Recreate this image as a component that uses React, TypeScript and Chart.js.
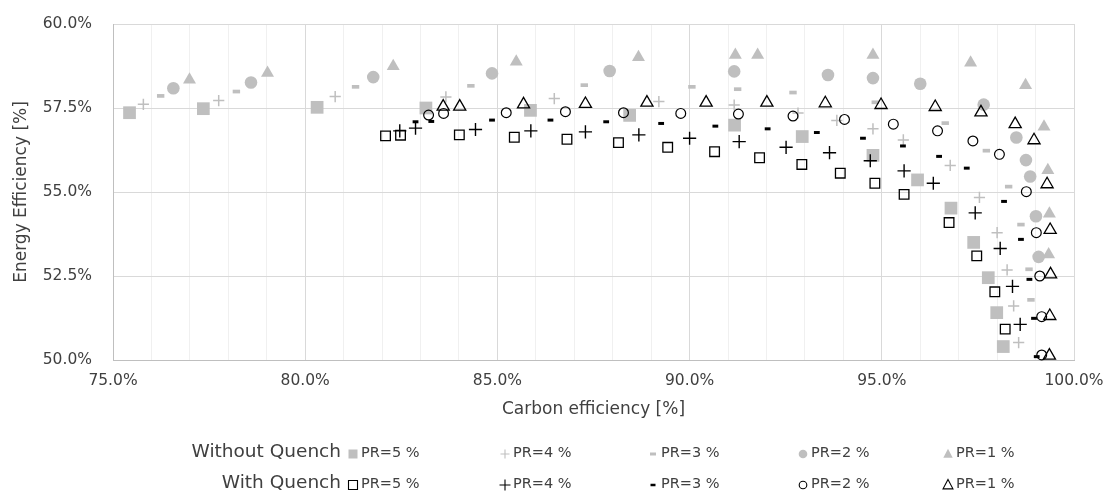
import React, { useEffect, useRef } from "react";
import { Chart, registerables } from "chart.js";

Chart.register(...registerables);

// ---------- data (percent) ----------
const woPR5x = [75.43, 77.35, 80.31, 83.14, 85.86, 88.44, 91.17, 92.93, 94.77, 95.93, 96.8, 97.39, 97.77, 97.99, 98.16];
const woPR5y = [57.36, 57.48, 57.52, 57.5, 57.43, 57.28, 56.99, 56.65, 56.09, 55.36, 54.52, 53.5, 52.45, 51.41, 50.4];

const woPR4x = [75.79, 77.75, 80.78, 83.66, 86.48, 89.2, 91.16, 92.82, 93.83, 94.77, 95.56, 96.78, 97.54, 98.0, 98.26, 98.43, 98.56];
const woPR4y = [57.61, 57.72, 57.84, 57.83, 57.78, 57.69, 57.59, 57.35, 57.13, 56.88, 56.55, 55.79, 54.84, 53.79, 52.68, 51.61, 50.52];

const woPR3x = [76.24, 78.21, 81.31, 84.31, 87.26, 90.06, 91.25, 92.69, 94.83, 96.65, 97.72, 98.3, 98.62, 98.83, 98.88];
const woPR3y = [57.86, 57.99, 58.13, 58.16, 58.18, 58.13, 58.06, 57.96, 57.67, 57.05, 56.23, 55.16, 54.03, 52.7, 51.79];

const woPR2x = [76.57, 78.59, 81.77, 84.86, 87.92, 91.16, 93.6, 94.77, 96.0, 97.65, 98.5, 98.75, 98.86, 99.01, 99.08];
const woPR2y = [58.09, 58.26, 58.42, 58.53, 58.6, 58.59, 58.48, 58.39, 58.22, 57.6, 56.62, 55.95, 55.46, 54.28, 53.07];

const woPR1x = [76.99, 79.02, 82.29, 85.49, 88.67, 91.19, 91.77, 94.77, 97.31, 98.74, 99.22, 99.32, 99.36, 99.34];
const woPR1y = [58.34, 58.54, 58.74, 58.88, 59.01, 59.08, 59.08, 59.08, 58.85, 58.18, 56.94, 55.65, 54.35, 53.14];

const wPR5x = [82.09, 82.48, 84.01, 85.44, 86.81, 88.15, 89.43, 90.65, 91.82, 92.92, 93.92, 94.82, 95.58, 96.75, 97.47, 97.94, 98.21];
const wPR5y = [56.67, 56.69, 56.7, 56.63, 56.57, 56.47, 56.33, 56.2, 56.02, 55.82, 55.56, 55.26, 54.93, 54.09, 53.1, 52.03, 50.92];

const wPR4x = [82.46, 82.87, 84.43, 85.87, 87.29, 88.68, 90.0, 91.29, 92.51, 93.64, 94.7, 95.58, 96.34, 97.43, 98.08, 98.4, 98.6];
const wPR4y = [56.82, 56.9, 56.86, 56.82, 56.79, 56.7, 56.6, 56.5, 56.33, 56.17, 55.93, 55.63, 55.26, 54.38, 53.32, 52.19, 51.06];

const wPR3x = [82.87, 83.28, 84.86, 86.38, 87.83, 89.26, 90.67, 92.03, 93.31, 94.51, 95.55, 96.49, 97.21, 98.18, 98.62, 98.84, 98.96, 99.03];
const wPR3y = [57.09, 57.1, 57.14, 57.14, 57.09, 57.04, 56.96, 56.88, 56.77, 56.6, 56.37, 56.06, 55.71, 54.72, 53.59, 52.4, 51.24, 50.1];

const wPR2x = [83.21, 83.6, 85.23, 86.77, 88.28, 89.77, 91.27, 92.69, 94.03, 95.3, 96.45, 97.37, 98.06, 98.76, 99.02, 99.11, 99.16, 99.16];
const wPR2y = [57.29, 57.34, 57.36, 57.39, 57.36, 57.34, 57.32, 57.26, 57.16, 57.02, 56.82, 56.52, 56.12, 55.01, 53.79, 52.5, 51.29, 50.15];

const wPR1x = [83.59, 84.02, 85.68, 87.29, 88.89, 90.43, 92.01, 93.53, 94.98, 96.39, 97.58, 98.47, 98.96, 99.3, 99.38, 99.39, 99.37, 99.36];
const wPR1y = [57.54, 57.54, 57.61, 57.62, 57.66, 57.66, 57.66, 57.64, 57.59, 57.53, 57.37, 57.02, 56.54, 55.23, 53.87, 52.55, 51.31, 50.13];

const seriesLabels = ["PR=5 %", "PR=4 %", "PR=3 %", "PR=2 %", "PR=1 %"];
const groupLabels = ["Without Quench", "With Quench"];

const xTickMin = 75;
const xTickMax = 100;
const yTickMin = 50;
const yTickMax = 60;

// ---------- styles ----------
const FONT = "'DejaVu Sans', sans-serif";
const TEXT = "#404040";
const GRAY = "#BFBFBF";
const BLACK = "#000000";

type Sty = { style: string; r: number; bw: number; fill: boolean; lr: number };
const grayStyles: Sty[] = [
  { style: "rect", r: 9, bw: 0, fill: true, lr: 4.5 },
  { style: "cross", r: 5.6, bw: 1.5, fill: false, lr: 4.5 },
  { style: "line", r: 3.7, bw: 3.7, fill: false, lr: 3 },
  { style: "circle", r: 6.3, bw: 0, fill: true, lr: 4.3 },
  { style: "triangle", r: 7.5, bw: 0, fill: true, lr: 5.2 },
];
const blackStyles: Sty[] = [
  { style: "rect", r: 6.8, bw: 1.3, fill: false, lr: 4.5 },
  { style: "cross", r: 6.6, bw: 1.4, fill: false, lr: 5.5 },
  { style: "line", r: 2.9, bw: 3, fill: false, lr: 2.5 },
  { style: "circle", r: 4.9, bw: 1.2, fill: false, lr: 3.8 },
  { style: "triangle", r: 7, bw: 1.3, fill: false, lr: 5.5 },
];

const zip = (xs: number[], ys: number[]) => xs.map((x, i) => ({ x, y: ys[i] }));

const woData = [zip(woPR5x, woPR5y), zip(woPR4x, woPR4y), zip(woPR3x, woPR3y), zip(woPR2x, woPR2y), zip(woPR1x, woPR1y)];
const wData = [zip(wPR5x, wPR5y), zip(wPR4x, wPR4y), zip(wPR3x, wPR3y), zip(wPR2x, wPR2y), zip(wPR1x, wPR1y)];

function makeDataset(data: any[], s: Sty, color: string, group: number, idx: number) {
  return {
    label: `${groupLabels[group]} ${seriesLabels[idx]}`,
    data,
    pointStyle: s.style,
    pointRadius: s.r,
    pointHoverRadius: s.r,
    pointBorderWidth: s.bw,
    pointBackgroundColor: s.fill ? color : "rgba(0,0,0,0)",
    pointBorderColor: color,
    backgroundColor: s.fill ? color : "rgba(0,0,0,0)",
    borderColor: color,
    showLine: false,
    clip: false,
    order: group === 0 ? 2 : 1,
    _group: group,
    _idx: idx,
    _legendR: s.lr,
    _fill: s.fill,
  };
}

function drawMarker(ctx: CanvasRenderingContext2D, style: string, x: number, y: number, r: number, fill: boolean, color: string, bw: number) {
  ctx.save();
  ctx.beginPath();
  ctx.fillStyle = color;
  ctx.strokeStyle = color;
  ctx.lineWidth = bw;
  if (style === "rect") {
    ctx.rect(x - r, y - r, 2 * r, 2 * r);
  } else if (style === "circle") {
    ctx.arc(x, y, r, 0, Math.PI * 2);
  } else if (style === "triangle") {
    ctx.moveTo(x, y - r);
    ctx.lineTo(x + r * 0.9, y + r * 0.7);
    ctx.lineTo(x - r * 0.9, y + r * 0.7);
    ctx.closePath();
  } else if (style === "cross") {
    ctx.moveTo(x - r, y);
    ctx.lineTo(x + r, y);
    ctx.moveTo(x, y - r);
    ctx.lineTo(x, y + r);
  } else if (style === "line") {
    ctx.moveTo(x - r, y);
    ctx.lineTo(x + r, y);
  }
  if (fill) ctx.fill();
  else ctx.stroke();
  ctx.restore();
}

const LEGEND_ROW_Y = [452, 483];
const LEGEND_LABEL_RIGHT = 341;
const LEGEND_ITEM_X = [353, 505, 653, 803, 948];

const rowLegend = {
  id: "rowLegend",
  afterDraw(chart: any) {
    const ctx: CanvasRenderingContext2D = chart.ctx;
    ctx.save();
    ctx.textBaseline = "middle";
    for (let g = 0; g < 2; g++) {
      const y = LEGEND_ROW_Y[g];
      ctx.font = `18.5px ${FONT}`;
      ctx.fillStyle = TEXT;
      ctx.textAlign = "right";
      ctx.fillText(groupLabels[g], LEGEND_LABEL_RIGHT, y);
      const sets = chart.data.datasets.filter((d: any) => d._group === g);
      sets.forEach((d: any) => {
        const mx = LEGEND_ITEM_X[d._idx];
        const color = d.borderColor;
        const bw = d._fill ? 0 : d.pointStyle === "line" ? (g === 0 ? 3 : 2.5) : 1.1;
        drawMarker(ctx, d.pointStyle, mx, y + 2, d._legendR, d._fill, color, bw);
        ctx.font = `14.5px ${FONT}`;
        ctx.fillStyle = TEXT;
        ctx.textAlign = "left";
        ctx.fillText(seriesLabels[d._idx], mx + 8, y + 1);
      });
    }
    ctx.restore();
  },
};

export default function App() {
  const ref = useRef<HTMLCanvasElement | null>(null);
  useEffect(() => {
    if (!ref.current) return;
    const datasets: any[] = [];
    woData.forEach((d, i) => datasets.push(makeDataset(d, grayStyles[i], GRAY, 0, i)));
    wData.forEach((d, i) => datasets.push(makeDataset(d, blackStyles[i], BLACK, 1, i)));
    const chart = new Chart(ref.current, {
      type: "scatter",
      data: { datasets },
      plugins: [rowLegend],
      options: {
        animation: false,
        responsive: true,
        maintainAspectRatio: false,
        layout: { padding: { top: 24, right: 35, bottom: 78, left: 0 } },
        plugins: { legend: { display: false }, tooltip: { enabled: false } },
        scales: {
          x: {
            type: "linear",
            min: xTickMin,
            max: xTickMax,
            afterFit: (s: any) => {
              s.height = 62;
            },
            ticks: {
              stepSize: 1,
              autoSkip: false,
              maxRotation: 0,
              padding: 3,
              color: TEXT,
              font: { family: FONT, size: 15.5 },
              callback: (v: any) => (Math.abs(Number(v) % 5) < 1e-6 ? `${Number(v).toFixed(1)}%` : ""),
            },
            grid: {
              drawTicks: true,
              tickLength: 9,
              tickColor: "rgba(0,0,0,0)",
              lineWidth: 1,
              color: (c: any) => (c.tick && Math.abs(c.tick.value % 5) < 1e-6 ? "#D9D9D9" : "#F0F0F0"),
            },
            border: { color: "#BFBFBF", width: 1 },
            title: {
              display: true,
              text: "Carbon efficiency [%]",
              color: TEXT,
              font: { family: FONT, size: 17 },
              padding: { top: 0, bottom: 2 },
            },
          },
          y: {
            type: "linear",
            min: yTickMin,
            max: yTickMax,
            afterFit: (s: any) => {
              s.width = 113;
            },
            ticks: {
              stepSize: 2.5,
              padding: 3,
              color: TEXT,
              font: { family: FONT, size: 15.5 },
              callback: (v: any) => `${Number(v).toFixed(1)}%`,
            },
            grid: {
              drawTicks: true,
              tickLength: 18,
              tickColor: "rgba(0,0,0,0)",
              lineWidth: 1,
              color: "#D9D9D9",
            },
            border: { color: "#BFBFBF", width: 1 },
            title: {
              display: true,
              text: "Energy Efficiency [%]",
              color: TEXT,
              font: { family: FONT, size: 17 },
              padding: { top: 11, bottom: 0 },
            },
          },
        },
      } as any,
    });
    return () => chart.destroy();
  }, []);
  return (
    <div style={{ position: "fixed", left: 0, top: 0, width: 1109, height: 500, background: "#fff" }}>
      <canvas ref={ref} />
    </div>
  );
}
